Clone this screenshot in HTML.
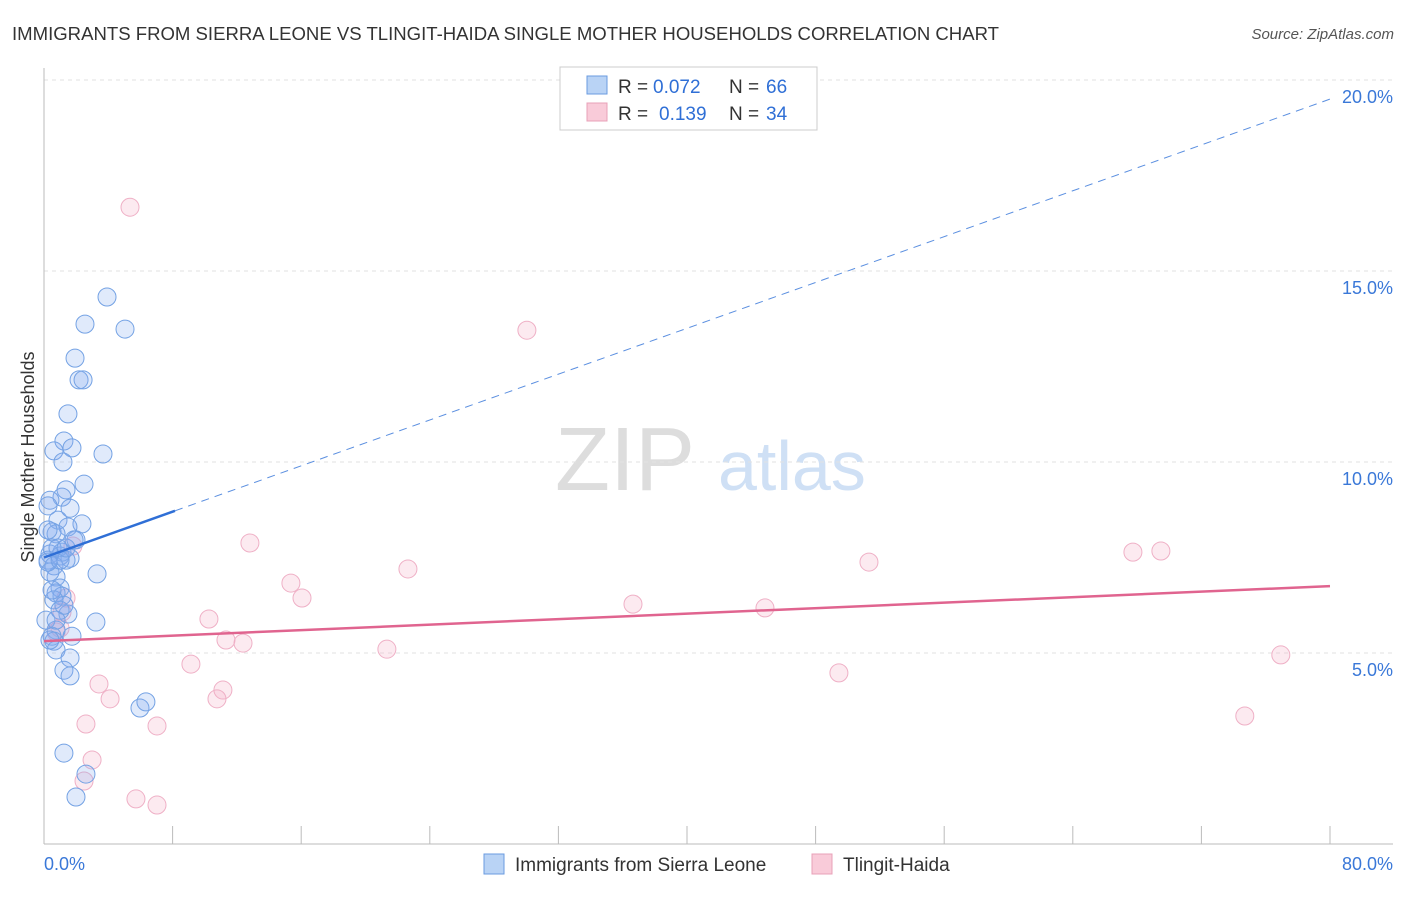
<!DOCTYPE html>
<html><head><meta charset="utf-8"><style>
body{margin:0;background:#fff;font-family:"Liberation Sans",sans-serif;}
svg text{font-family:"Liberation Sans",sans-serif;}
</style></head><body>
<svg id="chart" width="1406" height="892">
<text x="12" y="40" font-size="18" fill="#333" textLength="987" lengthAdjust="spacingAndGlyphs">IMMIGRANTS FROM SIERRA LEONE VS TLINGIT-HAIDA SINGLE MOTHER HOUSEHOLDS CORRELATION CHART</text>
<text x="1394" y="39" font-size="15" fill="#555" text-anchor="end" font-style="italic">Source: ZipAtlas.com</text>
<text x="34" y="457" font-size="18" fill="#333" text-anchor="middle" transform="rotate(-90 34 457)">Single Mother Households</text>
<text x="555" y="490" font-size="90" fill="#ddd" font-family="Liberation Serif">ZIP</text>
<text x="718" y="490" font-size="70" fill="#cfe0f5">atlas</text>
<g id="grid"></g><g id="pts"></g><g id="lines"></g>
<g>
<rect x="560" y="67" width="257" height="63" fill="#fff" stroke="#ccc"/>
<rect x="587" y="76" width="20" height="18" fill="#b9d3f5" stroke="#6a9be0"/>
<rect x="587" y="103" width="20" height="18" fill="#f9cbd9" stroke="#e8a0b8"/>
<text x="618" y="93" font-size="19" fill="#333">R =</text>
<text x="653" y="93" font-size="19" fill="#2f6fd6">0.072</text>
<text x="729" y="93" font-size="19" fill="#333">N =</text>
<text x="766" y="93" font-size="19" fill="#2f6fd6">66</text>
<text x="618" y="120" font-size="19" fill="#333">R =</text>
<text x="659" y="120" font-size="19" fill="#2f6fd6">0.139</text>
<text x="729" y="120" font-size="19" fill="#333">N =</text>
<text x="766" y="120" font-size="19" fill="#2f6fd6">34</text>
</g>
<g>
<rect x="484" y="854" width="20" height="20" fill="#b9d3f5" stroke="#6a9be0"/>
<text x="515" y="871" font-size="19" fill="#333">Immigrants from Sierra Leone</text>
<rect x="812" y="854" width="20" height="20" fill="#f9cbd9" stroke="#e8a0b8"/>
<text x="843" y="871" font-size="19" fill="#333">Tlingit-Haida</text>
</g>
<text x="44" y="870" font-size="18" fill="#3a78d8">0.0%</text>
<text x="1393" y="870" font-size="18" fill="#3a78d8" text-anchor="end">80.0%</text>
</svg>
<script>
const yTicks=[5,10,15,20];
const yTickLabels=["5.0%","10.0%","15.0%","20.0%"];
const xTicks=[0,8,16,24,32,40,48,56,64,72,80];
const blueX=[3.92,2.55,5.04,1.93,2.18,2.43,1.49,1.24,1.74,0.62,3.67,1.18,2.49,1.37,1.12,0.37,1.62,0.25,0.87,2.36,1.49,0.5,0.75,1.99,1.12,1.62,0.37,0.25,1.0,0.62,0.75,3.3,0.37,1.0,0.75,1.12,0.62,1.49,3.23,0.75,0.5,1.74,0.62,0.75,1.62,1.24,1.62,5.97,6.34,1.24,2.61,1.99,0.25,0.5,0.87,1.37,0.12,1.0,0.5,0.25,1.24,0.75,0.37,1.0,1.37,1.87];
const blueY=[14.32,13.61,13.48,12.72,12.15,12.15,11.26,10.55,10.37,10.29,10.21,10.0,9.42,9.27,9.08,9.0,8.79,8.85,8.48,8.38,8.3,8.17,8.12,7.96,7.64,7.48,7.59,7.43,7.54,7.28,6.99,7.07,7.12,6.7,6.57,6.49,6.39,6.02,5.81,5.6,5.44,5.44,5.31,5.08,4.87,4.55,4.4,3.56,3.72,2.38,1.83,1.23,7.38,7.75,7.75,7.43,5.86,6.12,6.65,8.22,6.25,5.86,5.34,7.43,7.75,7.96];
const pinkX=[5.35,30.04,12.81,22.64,15.36,16.05,10.26,11.32,12.38,21.33,9.14,11.13,10.76,3.42,4.11,2.61,7.03,2.99,2.49,5.72,7.03,36.64,44.85,51.32,49.45,67.74,69.48,76.94,74.7,1.8,1.37,1.12,1.0,0.75];
const pinkY=[16.67,13.45,7.88,7.2,6.83,6.44,5.89,5.34,5.26,5.1,4.71,4.03,3.8,4.19,3.8,3.14,3.09,2.2,1.65,1.18,1.02,6.28,6.18,7.38,4.48,7.64,7.67,4.95,3.35,7.8,6.44,6.07,5.65,5.55];
const blueTrend=[7.5,19.5], blueSolidEnd=8.15;
const pinkTrend=[5.31,6.75];
const NS="http://www.w3.org/2000/svg";
const X=v=>44+v/80*1286, Y=v=>844-v*38.2;
function mk(tag,attrs,parent){const e=document.createElementNS(NS,tag);for(const k in attrs)e.setAttribute(k,attrs[k]);document.getElementById(parent).appendChild(e);return e;}
yTicks.forEach((t,i)=>{
 const g=mk('line',{x1:44,x2:1393,y1:Y(t),y2:Y(t),stroke:'#e2e2e2','stroke-dasharray':'4,4'},'grid');
 
 
 const l=mk('text',{x:1393,y:Y(t)+23,'font-size':18,fill:'#3a78d8','text-anchor':'end'},'grid');
 l.textContent=yTickLabels[i];
 
 
});
const ax=mk('line',{x1:44,x2:1393,y1:844,y2:844,stroke:'#bbb'},'grid');


const ay=mk('line',{x1:44,x2:44,y1:68,y2:844,stroke:'#bbb'},'grid');


xTicks.forEach(t=>{
 const k=mk('line',{x1:X(t),x2:X(t),y1:826,y2:844,stroke:'#bbb'},'grid');
 
 
});
pinkX.forEach((x,i)=>{
 const c=mk('circle',{cx:X(x),cy:Y(pinkY[i]),r:9,fill:'rgba(244,170,196,0.25)',stroke:'#efb0c6','stroke-width':1},'pts');
 
 
});
blueX.forEach((x,i)=>{
 const c=mk('circle',{cx:X(x),cy:Y(blueY[i]),r:9,fill:'rgba(130,172,238,0.25)',stroke:'#74a2e4','stroke-width':1},'pts');
 
 
});
const by=x=>blueTrend[0]+(blueTrend[1]-blueTrend[0])*x/80;
const bs=mk('line',{x1:X(0),y1:Y(by(0)),x2:X(blueSolidEnd),y2:Y(by(blueSolidEnd)),stroke:'#2f6fd6','stroke-width':2.5},'lines');


const bd=mk('line',{x1:X(blueSolidEnd),y1:Y(by(blueSolidEnd)),x2:X(80),y2:Y(by(80)),stroke:'#5b8fe0','stroke-width':1,'stroke-dasharray':'8,6'},'lines');


const pl=mk('line',{x1:X(0),y1:Y(pinkTrend[0]),x2:X(80),y2:Y(pinkTrend[1]),stroke:'#e0648f','stroke-width':2.5},'lines');


</script>
</body></html>
